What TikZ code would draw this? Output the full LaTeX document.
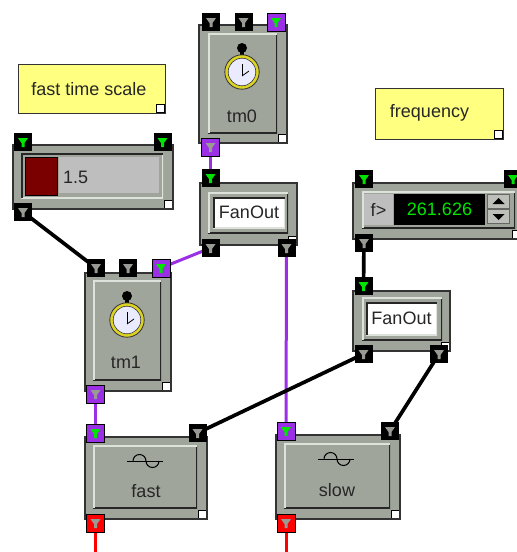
\documentclass[tikz,border=0pt]{standalone}
\usepackage{fontspec}
\setmainfont{Liberation Sans}
\definecolor{boxgray}{HTML}{A0A59C}
\definecolor{bevel}{HTML}{DDE2DA}
\definecolor{fieldgray}{HTML}{BEBEBE}
\definecolor{notefill}{HTML}{FFFF80}
\definecolor{wirepurple}{HTML}{9B2FE6}
\definecolor{funnelgray}{HTML}{989B94}
\definecolor{darkred}{HTML}{7A0000}
\pgfdeclarelayer{wires}
\pgfsetlayers{wires,main}
\tikzset{
  x=1pt,y=-1pt,
  every node/.style={inner sep=0pt,font=\fontsize{18}{20}\selectfont,text=black!85},
  sized/.style 2 args={minimum width=#1,minimum height=#2},
  grip/.style={path picture={%
    \draw[black,fill=white,line width=0.8]
      ([shift={(-9,-9)}]path picture bounding box.south east) rectangle
      ([shift={(-1,-1)}]path picture bounding box.south east);}},
  modbox/.style={draw=black!80,line width=1.2,fill=boxgray,grip},
  notebox/.style={draw=black!80,line width=1,fill=notefill,grip},
  panel/.style={fill=boxgray,path picture={%
    \draw[black!85,line width=3]
      (path picture bounding box.south west) -- (path picture bounding box.south east)
      -- (path picture bounding box.north east);
    \draw[bevel,line width=3]
      (path picture bounding box.south west) -- (path picture bounding box.north west)
      -- (path picture bounding box.north east);}},
  sunken/.style={fill=boxgray,path picture={%
    \draw[bevel,line width=3]
      (path picture bounding box.south west) -- (path picture bounding box.south east)
      -- (path picture bounding box.north east);
    \draw[black!85,line width=3]
      (path picture bounding box.south west) -- (path picture bounding box.north west)
      -- (path picture bounding box.north east);}},
  funnel/.style={path picture={%
    \fill[#1,shift={(path picture bounding box.center)}]
      (-5,-4) -- (5,-4) -- (1.5,1) -- (1.5,5) -- (-1.5,5) -- (-1.5,1) -- cycle;}},
  portin/.style={minimum size=18,fill=#1,funnel=green!90!black},
  portout/.style={minimum size=18,fill=#1,funnel=funnelgray},
  wire/.style={line width=3,#1},
  thickwire/.style={line width=3.7,#1},
  spinbtn/.style={sized={22}{14},fill=boxgray!70!white,draw=black!60,line width=0.6},
  watch/.pic={
    \fill[black] (0,-24) circle (5);
    \draw[black,line width=3.5] (0,-24) -- (0,-15);
    \draw[black,fill=white!92!blue,line width=1] (0,0) circle (16);
    \draw[yellow!85!black,line width=3] (0,0) circle (15.5);
    \draw[black!80,line width=0.8] (0,0) circle (17.2);
    \draw[black!80,line width=0.6] (0,0) circle (13.8);
    \draw[black,line width=0.8] (0,4) -- (0,-8);
    \draw[black,line width=0.8] (0,4) -- (7,-1);
  },
  sinewave/.pic={
    \draw[black,line width=1] (-18,0) -- (18,0);
    \draw[black,line width=1] (-12,0) arc[start angle=180,end angle=360,radius=6.5]
      arc[start angle=180,end angle=0,radius=6.5];
  },
}
\begin{document}
\begin{tikzpicture}
  \useasboundingbox (0,0) rectangle (517,552);
  \clip (0,0) rectangle (517,552);

  % notes
  \node[notebox,sized={147}{49}] (notefast) at (91.5,88.5) {};
  \node (notefasttxt) at (89,89) {fast time scale};
  \node[notebox,sized={128}{51}] (notefreq) at (439,113.5) {};
  \node (notefreqtxt) at (429.5,113) {frequency};

  % slider
  \node[modbox,sized={160}{64}] (slider) at (93,177) {};
  \node[sunken,sized={142}{45}] (sliderpanel) at (92,175.5) {};
  \node[fill=fieldgray,sized={100}{36}] (sliderfield) at (109,175) {};
  \node[fill=darkred,draw=black,line width=1,sized={32}{38}] (sliderknob) at (41,176) {};
  \node[anchor=west] (slidertxt) at (63,177) {1.5};
  \node[portin=black] (sliderinl) at (23,142) {};
  \node[portin=black] (sliderinr) at (162.5,142) {};
  \node[portout=black] (sliderout) at (23,212) {};

  % number box
  \node[modbox,sized={168}{56}] (number) at (437,211) {};
  \node[panel,sized={153}{37}] (numberpanel) at (438.5,209.5) {};
  \node[fill=fieldgray,sized={29}{31}] (numberf) at (378.5,209.5) {f>};
  \node[fill=black,sized={91}{31},text=green!90!black] (numberval) at (439.5,209.5) {261.626};
  \node[spinbtn] (spinup) at (498.5,201) {};
  \node[spinbtn] (spindown) at (498.5,216.5) {};
  \fill[black] (492.5,204) -- (504.5,204) -- (498.5,198) -- cycle;
  \fill[black] (492.5,214) -- (504.5,214) -- (498.5,220) -- cycle;
  \node[portin=black] (numberinl) at (364,179) {};
  \node[portin=black] (numberinr) at (513,179) {};
  \node[portout=black] (numberout) at (364,243) {};

  % timers
  \node[modbox,sized={88}{118}] (tm0) at (243,84) {};
  \node[panel,sized={69}{100}] (tm0panel) at (242.5,83) {};
  \pic at (242,72) {watch};
  \node (tm0txt) at (242,116) {tm0};
  \node[portout=black] (tm0ina) at (211,22) {};
  \node[portout=black] (tm0inb) at (243.5,22) {};
  \node[portin=wirepurple,draw=black,line width=0.8] (tm0gate) at (276,22) {};
  \node[portout=wirepurple,draw=black,line width=0.8] (tm0out) at (210.5,147) {};

  \node[modbox,sized={86}{118}] (tm1) at (128,332) {};
  \node[panel,sized={68}{100}] (tm1panel) at (127,330) {};
  \pic at (127,320) {watch};
  \node (tm1txt) at (126,362) {tm1};
  \node[portout=black] (tm1ina) at (96,268) {};
  \node[portout=black] (tm1inb) at (128,268) {};
  \node[portin=wirepurple,draw=black,line width=0.8] (tm1gate) at (161,268) {};
  \node[portout=wirepurple,draw=black,line width=0.8] (tm1out) at (95.5,394) {};

  % fan outs
  \node[modbox,sized={97}{62}] (fanA) at (248.5,214) {};
  \node[panel,sized={80}{41}] (fanApanel) at (248,212.5) {};
  \node[sunken,fill=white,sized={72}{31}] (fanAtxt) at (249,212.5) {FanOut};
  \node[portin=black] (fanAin) at (210.5,178) {};
  \node[portout=black] (fanAoutl) at (210.5,248) {};
  \node[portout=black] (fanAoutr) at (286.5,248) {};

  \node[modbox,sized={97}{60}] (fanB) at (401.5,321) {};
  \node[panel,sized={80}{43}] (fanBpanel) at (402,318.5) {};
  \node[sunken,fill=white,sized={71}{33}] (fanBtxt) at (401.5,318.5) {FanOut};
  \node[portin=black] (fanBin) at (363.5,286) {};
  \node[portout=black] (fanBoutl) at (363.5,354) {};
  \node[portout=black] (fanBoutr) at (439,354) {};

  % oscillators
  \node[modbox,sized={122}{82}] (fast) at (146,478) {};
  \node[panel,sized={104}{63}] (fastpanel) at (145,476.5) {};
  \pic at (145,461) {sinewave};
  \node (fasttxt) at (146,491) {fast};
  \node[portin=wirepurple,draw=black,line width=0.8] (fastina) at (95.5,433) {};
  \node[portout=black] (fastinb) at (197.5,433) {};
  \node[portout=red,draw=black,line width=0.8] (fastout) at (95.5,523) {};

  \node[modbox,sized={124}{84}] (slow) at (338,477) {};
  \node[panel,sized={106}{65}] (slowpanel) at (337,475.5) {};
  \pic at (336,459) {sinewave};
  \node (slowtxt) at (337,490) {slow};
  \node[portin=wirepurple,draw=black,line width=0.8] (slowina) at (286,431) {};
  \node[portout=black] (slowinb) at (390,431) {};
  \node[portout=red,draw=black,line width=0.8] (slowout) at (286,523) {};

  % free ends of the red wires
  \coordinate (fastend) at (95.5,552);
  \coordinate (slowend) at (286,552);

  \begin{pgfonlayer}{wires}
    \draw[wire=wirepurple] (tm0out.center) -- (fanAin.center);
    \draw[wire=wirepurple] (fanAoutl.center) -- (tm1gate.center);
    \draw[wire=wirepurple] (tm1out.center) -- (fastina.center);
    \draw[wire=wirepurple] (fanAoutr.center) -- (slowina.center);
    \draw[thickwire=black] (sliderout.center) -- (tm1ina.center);
    \draw[thickwire=black] (numberout.center) -- (fanBin.center);
    \draw[thickwire=black] (fanBoutl.center) -- (fastinb.center);
    \draw[thickwire=black] (fanBoutr.center) -- (slowinb.center);
    \draw[wire=red] (fastout.center) -- (fastend);
    \draw[wire=red] (slowout.center) -- (slowend);
  \end{pgfonlayer}
\end{tikzpicture}
\end{document}
